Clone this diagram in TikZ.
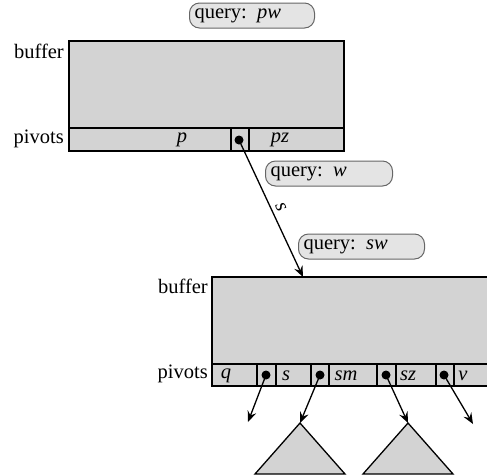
\documentclass[tikz,border=0pt]{standalone}
\usepackage{fontspec}
\setmainfont{Liberation Serif}
\usetikzlibrary{arrows.meta}
\definecolor{boxgray}{HTML}{D3D3D3}
\definecolor{pillgray}{HTML}{E4E4E4}
\begin{document}
\begin{tikzpicture}[x=1pt,y=-1pt,
  every node/.style={font=\fontsize{20.5}{24}\selectfont, inner sep=0pt},
  blk/.style={draw=black, line width=1.3pt, fill=boxgray},
  cell/.style={draw=black, line width=1.3pt},
  pill/.style={draw=black!60, line width=1pt, fill=pillgray, rounded corners=10pt, minimum height=25pt, anchor=west, inner xsep=5pt, align=left},
  dotn/.style={circle, fill=black, minimum size=9pt, inner sep=0pt},
  ptr/.style={line width=1.3pt, -{Stealth[length=11pt,width=9pt,inset=4pt]}},
  lbl/.style={anchor=east},
  tri/.style={draw=black, line width=1.3pt, fill=boxgray}]
\useasboundingbox (0,0) rectangle (487,475);
\clip (0,0) rectangle (487,475);
% top node
\draw[blk] (69,41) rectangle (344,151);
\draw[cell] (69,128) -- (344,128);
\draw[cell] (231,128) rectangle (249,151);
\node[lbl] (tbuf) at (64,51) {buffer};
\node[lbl] (tpiv) at (64,139) {pivots};
\node (tp) at (182,140) {\textit{p}};
\node (tpz) at (280,140) {\textit{pz}};
\node[dotn] (tdot) at (239,140) {};
\node[pill, text width=115pt] (q1) at (189,15.5) {query: \textit{pw}};
\node[pill, text width=117pt] (q2) at (265,173.5) {query: \textit{w}};
\node[pill, text width=116pt] (q3) at (298,246.5) {query: \textit{sw}};
% bottom node
\draw[blk] (212,277) rectangle (520,386);
\draw[cell] (212,364) -- (520,364);
\draw[cell] (257,364) rectangle (276,386);
\draw[cell] (311,364) rectangle (329,386);
\draw[cell] (377,364) rectangle (396,386);
\draw[cell] (436,364) rectangle (454,386);
\coordinate (btop) at (303,277);
\node[lbl] (bbuf) at (208,286) {buffer};
\node[lbl] (bpiv) at (208,374) {pivots};
\node (bq) at (226,376) {\textit{q}};
\node (bs) at (286,376) {\textit{s}};
\node (bsm) at (346,376) {\textit{sm}};
\node (bsz) at (408,376) {\textit{sz}};
\node (bv) at (463,376) {\textit{v}};
\node[dotn] (d1) at (266,375) {};
\node[dotn] (d2) at (320,375) {};
\node[dotn] (d3) at (386,375) {};
\node[dotn] (d4) at (444,375) {};
% edge from top to bottom
\draw[ptr] (tdot.center) -- node[sloped, above=4pt, pos=0.52] {\textit{s}} (btop);
% children
\coordinate (e1) at (248,422);
\coordinate (e4) at (473,424);
\draw[tri] (300,423) coordinate (t1) -- (255,474) -- (345,474) -- cycle;
\draw[tri] (408,423) coordinate (t2) -- (363,474) -- (453,474) -- cycle;
\draw[ptr] (d1.center) -- (e1);
\draw[ptr] (d2.center) -- (t1);
\draw[ptr] (d3.center) -- (t2);
\draw[ptr] (d4.center) -- (e4);
\end{tikzpicture}
\end{document}
